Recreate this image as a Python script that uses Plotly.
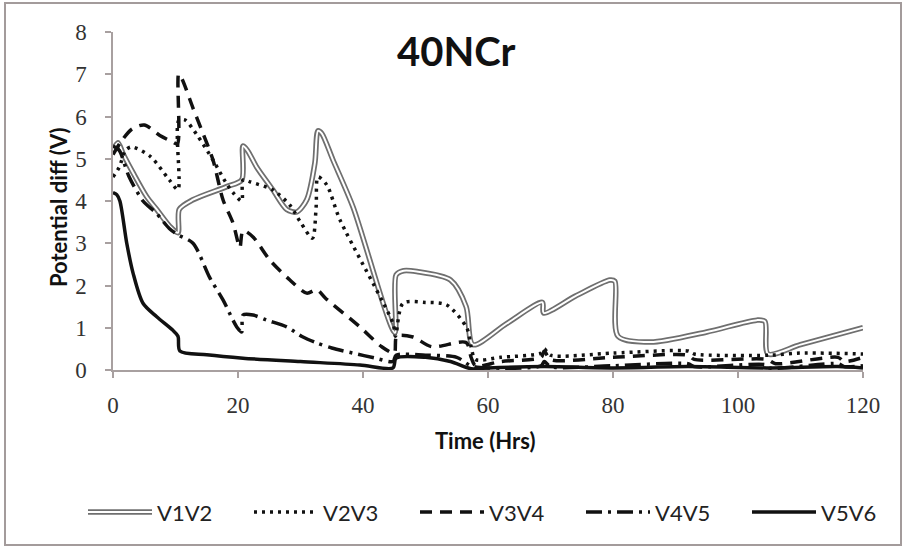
import plotly.graph_objects as go

# Potential difference between probe pairs over time, 40NCr specimen
v1v2_t = [0, 0.8, 1.6, 3.2, 5.4, 7, 9.1, 10.4, 10.6, 12.8, 18.2, 20.6, 20.8, 21.5, 23, 25.6,
          27.8, 29.4, 31, 32.3, 32.8, 33.4, 35.2, 38.4, 45.1, 45.3, 46.5, 48.6, 54, 56.5,
          57.6, 63, 68.7, 68.9, 74, 79.5, 80.3, 80.8, 86, 95, 103, 104.3, 104.8, 110, 120]
v1v2_v = [5.2, 5.38, 5.12, 4.67, 4.1, 3.8, 3.4, 3.25, 3.8, 4.03, 4.34, 4.5, 5.3, 5.2, 4.8, 4.26,
          3.8, 3.74, 4.03, 4.9, 5.66, 5.6, 4.97, 3.86, 0.88, 2.25, 2.35, 2.33, 2.13, 1.5,
          0.6, 1.1, 1.6, 1.35, 1.75, 2.13, 2.1, 0.8, 0.66, 0.9, 1.18, 1.15, 0.38, 0.6, 1.0]

v2v3_t = [0, 1, 2, 3, 6, 9, 10.4, 10.5, 11.5, 13.4, 16, 18, 19.2, 20.6, 20.8, 22, 25.6, 28.3,
          30, 31.9, 32.5, 32.8, 34.2, 36.3, 44.8, 45.2, 46.4, 50, 53.4, 56.6, 57.3, 58, 62,
          68.5, 69, 70, 80, 92, 93, 105, 110, 120]
v2v3_v = [4.57, 4.8, 5.2, 5.28, 5.05, 4.5, 4.27, 5.9, 5.92, 5.57, 4.97, 4.45, 4.2, 4.0, 4.5, 4.45,
          4.26, 3.9, 3.5, 3.12, 3.86, 4.57, 4.38, 3.56, 1.1, 0.8, 1.58, 1.6, 1.54, 1.0, 0.55, 0.25,
          0.3, 0.4, 0.5, 0.35, 0.4, 0.45, 0.38, 0.35, 0.4, 0.38]

v3v4_t = [0, 1.5, 3, 5, 7.5, 9.5, 10.3, 10.5, 11, 12.8, 14, 16, 17.6, 19.2, 20.3, 20.8, 22.4,
          25.1, 28.3, 31, 32.6, 34, 39.5, 43, 45, 45.4, 48, 51, 56.5, 57.3, 58, 62, 68.5, 69,
          70, 80, 92, 93, 104.6, 106, 116, 117, 120]
v3v4_v = [5.1, 5.45, 5.7, 5.8, 5.55, 5.4, 5.35, 7.0, 6.9, 6.2, 5.75, 4.97, 4.03, 3.48, 2.9, 3.3,
          3.15, 2.6, 2.13, 1.82, 1.9, 1.7, 1.02, 0.55, 0.4, 0.8, 0.78, 0.55, 0.65, 0.3, 0.1, 0.2,
          0.3, 0.45, 0.25, 0.3, 0.35, 0.25, 0.25, 0.15, 0.3, 0.2, 0.3]

v4v5_t = [0, 1, 2.5, 4.8, 7, 9, 10.4, 12.8, 15.5, 17.6, 19.8, 20.6, 20.8, 22.4, 24.6, 27.8,
          30.4, 32.6, 35, 38.4, 42, 44.8, 45.3, 50, 55, 57.3, 60, 68.5, 69, 70, 80, 92, 93,
          104.6, 105, 116, 117, 120]
v4v5_v = [5.3, 5.2, 4.6, 4.0, 3.7, 3.35, 3.2, 3.0, 2.18, 1.66, 1.02, 0.9, 1.3, 1.3, 1.18, 1.02,
          0.78, 0.64, 0.52, 0.4, 0.28, 0.2, 0.35, 0.35, 0.3, 0.1, 0.05, 0.1, 0.2, 0.08, 0.1, 0.15,
          0.08, 0.12, 0.05, 0.15, 0.08, 0.1]

v5v6_t = [0, 0.6, 1.1, 2.2, 3.2, 4.8, 7, 9.5, 10.4, 10.7, 15, 20.8, 30, 39.5, 44.8, 45.3, 50,
          54, 57.3, 60, 69, 80, 92, 104.6, 116, 120]
v5v6_v = [4.2, 4.15, 4.0, 3.0, 2.3, 1.58, 1.26, 0.95, 0.8, 0.45, 0.36, 0.28, 0.2, 0.12, 0.05,
          0.28, 0.3, 0.2, 0.03, 0.05, 0.08, 0.05, 0.08, 0.05, 0.08, 0.05]

x_ticks = [0, 20, 40, 60, 80, 100, 120]
y_ticks = [0, 1, 2, 3, 4, 5, 6, 7, 8]
series_names = ["V1V2", "V2V3", "V3V4", "V4V5", "V5V6"]

W, H = 902, 547
L, R, T, B = 113, 39, 32, 177
PW, PH = W - L - R, H - T - B

def px_x(p):
    return (p - L) / PW

def px_y(p):
    return (H - B - p) / PH

GREY = "#6f6f6f"
INK = "#111111"
SPL = dict(shape="spline", smoothing=0.8)

styles = {
    "V2V3": dict(color=INK, width=3.5, dash="3px,5px"),
    "V3V4": dict(color=INK, width=3.5, dash="12px,8px"),
    "V4V5": dict(color=INK, width=3.5, dash="16px,6px,3px,6px"),
    "V5V6": dict(color=INK, width=3.5, dash="solid"),
}

fig = go.Figure()
# double outlined line: grey casing with a white core
fig.add_trace(go.Scatter(x=v1v2_t, y=v1v2_v, mode="lines", name="V1V2",
                         line=dict(color=GREY, width=5.5, **SPL), showlegend=False))
fig.add_trace(go.Scatter(x=v1v2_t, y=v1v2_v, mode="lines", name="V1V2",
                         line=dict(color="white", width=2, **SPL), showlegend=False))
for name, t, v in [("V2V3", v2v3_t, v2v3_v), ("V3V4", v3v4_t, v3v4_v),
                   ("V4V5", v4v5_t, v4v5_v), ("V5V6", v5v6_t, v5v6_v)]:
    fig.add_trace(go.Scatter(x=t, y=v, mode="lines", name=name,
                             line=dict(**styles[name], **SPL), showlegend=False))

shapes = []
annotations = []

# legend row beneath the plot
leg_y = px_y(512)
leg_start, leg_pitch, leg_len = 88, 166, 64
for i, name in enumerate(series_names):
    a = leg_start + i * leg_pitch
    b = a + leg_len
    if name == "V1V2":
        shapes.append(dict(type="line", xref="paper", yref="paper", x0=px_x(a), x1=px_x(b),
                           y0=leg_y, y1=leg_y, line=dict(color=GREY, width=5.5)))
        shapes.append(dict(type="line", xref="paper", yref="paper", x0=px_x(a), x1=px_x(b),
                           y0=leg_y, y1=leg_y, line=dict(color="white", width=2)))
    else:
        st = styles[name]
        shapes.append(dict(type="line", xref="paper", yref="paper", x0=px_x(a), x1=px_x(b),
                           y0=leg_y, y1=leg_y,
                           line=dict(color=st["color"], width=st["width"], dash=st["dash"])))
    annotations.append(dict(text=name, xref="paper", yref="paper", x=px_x(b + 3), y=leg_y,
                            xanchor="left", yanchor="middle", showarrow=False,
                            font=dict(family="Lato", size=22, color="#222")))

# outer chart frame
shapes.append(dict(type="rect", xref="paper", yref="paper", x0=px_x(5), x1=px_x(901),
                   y0=px_y(545), y1=px_y(3), line=dict(color="#a39b9b", width=2),
                   layer="below"))

annotations.append(dict(text="<b>40NCr</b>", xref="paper", yref="paper", x=px_x(456), y=px_y(51),
                        xanchor="center", yanchor="middle", showarrow=False,
                        font=dict(family="Lato", size=40, color="#111")))
annotations.append(dict(text="<b>Time (Hrs)</b>", xref="paper", yref="paper", x=px_x(485),
                        y=px_y(440), xanchor="center", yanchor="middle", showarrow=False,
                        font=dict(family="Lato", size=22, color="#111")))
annotations.append(dict(text="<b>Potential diff (V)</b>", xref="paper", yref="paper",
                        x=px_x(58), y=px_y(207), xanchor="center", yanchor="middle",
                        showarrow=False, textangle=-90,
                        font=dict(family="Lato", size=22, color="#111")))

axis_common = dict(showgrid=False, zeroline=False, showline=True, linecolor="#a8a0a0",
                   linewidth=1.5, ticks="outside", ticklen=6, tickcolor="#a8a0a0",
                   tickwidth=1.5, tickfont=dict(family="Liberation Serif", size=23, color="#333"))

fig.update_layout(
    width=W, height=H,
    margin=dict(l=L, r=R, t=T, b=B),
    paper_bgcolor="white", plot_bgcolor="white",
    xaxis=dict(range=[0, 120], tickvals=x_ticks, ticktext=[str(v) for v in x_ticks],
               ticklabelstandoff=8, **axis_common),
    yaxis=dict(range=[0, 8], tickvals=y_ticks, ticktext=[str(v) for v in y_ticks],
               ticklabelstandoff=14, **axis_common),
    shapes=shapes, annotations=annotations, showlegend=False,
)

fig.write_html("out.html")
